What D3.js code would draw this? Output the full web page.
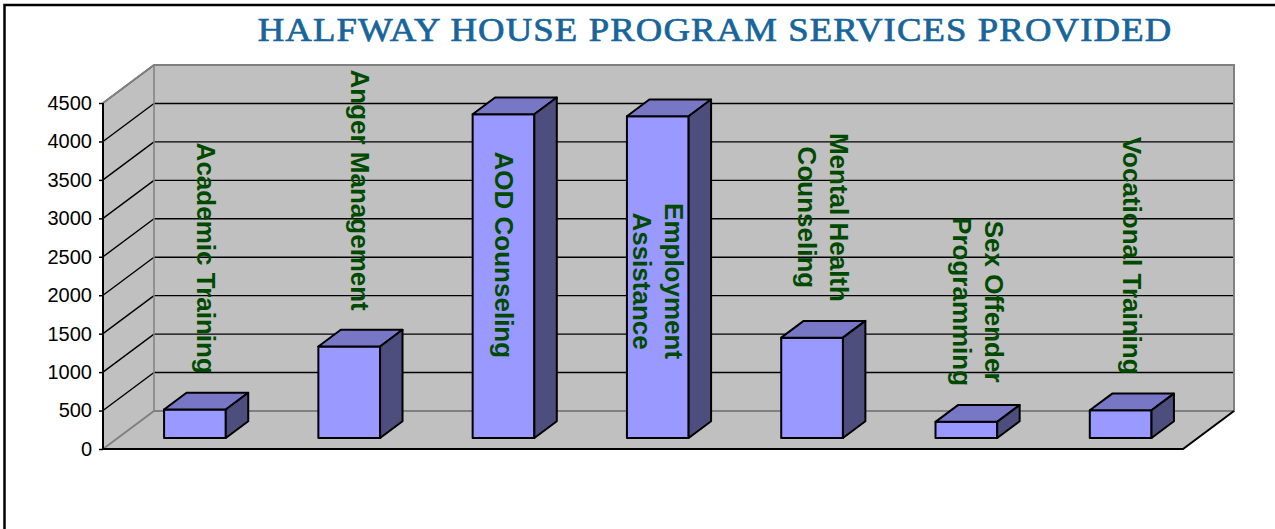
<!DOCTYPE html>
<html>
  <head>
    <title>Halfway House Program Services Provided</title>
    <script src="https://d3js.org/d3.v7.min.js"></script>
    <style>
      body { margin: 0; background: #fff; }
    </style>
  </head>
  <body>
    <div id="chart"></div>
    <script>
      // data
      var categories = ["Academic Training", "Anger Management", "AOD Counseling", "Employment Assistance",
        "Mental Health Counseling", "Sex Offender Programming", "Vocational Training"];
      var labelLines = [["Academic Training"], ["Anger Management"], ["AOD Counseling"], ["Employment", "Assistance"],
        ["Mental Health", "Counseling"], ["Sex Offender", "Programming"], ["Vocational Training"]];
      var values = [370, 1190, 4210, 4185, 1305, 210, 360];
      var yTicks = [0, 500, 1000, 1500, 2000, 2500, 3000, 3500, 4000, 4500];
      var title = "HALFWAY HOUSE PROGRAM SERVICES PROVIDED";

      var width = 1275, height = 529;
      var x0 = 103, x1 = 1183, yTopPx = 103, yBotPx = 449;
      var depthX = 51, depthY = -38;       // oblique offset of the back wall
      var d1 = 0.29, d2 = 0.73;            // bar front / back depth

      var svg = d3.select("#chart").append("svg")
        .attr("width", width)
        .attr("height", height);

      // outer frame
      svg.append("rect")
        .attr("x", 4.5).attr("y", 5)
        .attr("width", width + 10).attr("height", height + 10)
        .style("fill", "none").style("stroke", "#000").style("stroke-width", 2.5);

      var y = d3.scaleLinear().domain([0, 4500]).range([yBotPx, yTopPx]);
      var x = d3.scaleBand().domain(categories).range([x0, x1]).paddingInner(0).paddingOuter(0);

      function P(px, v, d) {
        return [px + d * depthX, y(v) + d * depthY];
      }
      function poly(pts) {
        return "M" + pts.map(function(p) { return p[0] + "," + p[1]; }).join("L") + "Z";
      }

      var g = svg.append("g");

      // back wall
      g.append("path")
        .attr("d", poly([P(x0, 0, 1), P(x0, 4500, 1), P(x1, 4500, 1), P(x1, 0, 1)]))
        .style("fill", "#c0c0c0").style("stroke", "none");
      // side wall
      g.append("path")
        .attr("d", poly([P(x0, 0, 0), P(x0, 4500, 0), P(x0, 4500, 1), P(x0, 0, 1)]))
        .style("fill", "#c0c0c0").style("stroke", "none");
      // floor
      g.append("path")
        .attr("d", poly([P(x0, 0, 0), P(x1, 0, 0), P(x1, 0, 1), P(x0, 0, 1)]))
        .style("fill", "#c0c0c0").style("stroke", "none");

      // gridlines
      var gridVals = yTicks.filter(function(v) { return v > 0 && v < 4500; });
      g.selectAll(".gridBack")
        .data(gridVals)
        .enter()
        .append("line")
        .attr("x1", function(v) { return P(x0, v, 1)[0]; })
        .attr("y1", function(v) { return P(x0, v, 1)[1]; })
        .attr("x2", function(v) { return P(x1, v, 1)[0]; })
        .attr("y2", function(v) { return P(x1, v, 1)[1]; })
        .style("stroke", "#000").style("stroke-width", 1.4);
      g.selectAll(".gridSide")
        .data(yTicks.filter(function(v) { return v > 0; }))
        .enter()
        .append("line")
        .attr("x1", function(v) { return P(x0, v, 0)[0]; })
        .attr("y1", function(v) { return P(x0, v, 0)[1]; })
        .attr("x2", function(v) { return P(x0, v, 1)[0]; })
        .attr("y2", function(v) { return P(x0, v, 1)[1]; })
        .style("stroke", "#000").style("stroke-width", 1.4);

      // wall borders (grey)
      g.append("path")
        .attr("d", "M" + P(x0, 0, 0) + "L" + P(x0, 0, 1) + "L" + P(x1, 0, 1) + "L" + P(x1, 4500, 1) +
          "L" + P(x0, 4500, 1) + "L" + P(x0, 4500, 0))
        .style("fill", "none").style("stroke", "#808080").style("stroke-width", 2);
      g.append("line")
        .attr("x1", P(x0, 0, 1)[0]).attr("y1", P(x0, 0, 1)[1])
        .attr("x2", P(x0, 4500, 1)[0]).attr("y2", P(x0, 4500, 1)[1])
        .style("stroke", "#808080").style("stroke-width", 1.5);

      // floor front and right edges
      g.append("path")
        .attr("d", "M" + P(x0, 0, 0) + "L" + P(x1, 0, 0) + "L" + P(x1, 0, 1))
        .style("fill", "none").style("stroke", "#000").style("stroke-width", 2);

      // y axis
      var axisG = svg.append("g")
        .attr("transform", "translate(" + x0 + ",0)")
        .call(d3.axisLeft(y).tickValues(yTicks).tickSize(4).tickPadding(7).tickFormat(d3.format("d")));
      axisG.select(".domain").attr("d", "M0," + yBotPx + "V" + yTopPx)
        .style("stroke", "#000").style("stroke-width", 2);
      axisG.selectAll(".tick line").style("stroke", "#000").style("stroke-width", 1.5);
      axisG.selectAll(".tick text")
        .style("font-family", "'Liberation Sans', Arial, sans-serif")
        .style("font-size", "20px")
        .style("fill", "#000");

      // bars
      var bw = x.bandwidth() * 0.4;
      var bars = g.selectAll(".bar")
        .data(values)
        .enter()
        .append("g")
        .attr("class", "bar");

      function barX(i) { return x(categories[i]) + (x.bandwidth() - bw) / 2; }

      bars.append("path") // front
        .attr("d", function(v, i) {
          var l = barX(i), r = l + bw;
          return poly([P(l, 0, d1), P(l, v, d1), P(r, v, d1), P(r, 0, d1)]);
        })
        .style("fill", "#9999ff");
      bars.append("path") // top
        .attr("d", function(v, i) {
          var l = barX(i), r = l + bw;
          return poly([P(l, v, d1), P(l, v, d2), P(r, v, d2), P(r, v, d1)]);
        })
        .style("fill", "#7777c6");
      bars.append("path") // side
        .attr("d", function(v, i) {
          var r = barX(i) + bw;
          return poly([P(r, 0, d1), P(r, v, d1), P(r, v, d2), P(r, 0, d2)]);
        })
        .style("fill", "#4d4d7e");
      bars.selectAll("path")
        .style("stroke", "#000").style("stroke-width", 2).style("stroke-linejoin", "round");

      // category labels (rotated)
      var lineH = 32;
      var labels = svg.selectAll(".catLabel")
        .data(values)
        .enter()
        .append("g")
        .attr("class", "catLabel");

      labels.each(function(v, i) {
        var lg = d3.select(this);
        var lines = labelLines[i];
        var texts = lines.map(function(t, k) {
          return lg.append("text")
            .attr("x", 0)
            .attr("y", (k - (lines.length - 1) / 2) * lineH + 9)
            .attr("text-anchor", "middle")
            .style("font-family", "'Liberation Sans', Arial, sans-serif")
            .style("font-weight", "bold")
            .style("font-size", "26px")
            .style("fill", "#004a00")
            .text(t);
        });
        var maxLen = d3.max(texts, function(t) { return t.node().getComputedTextLength(); });
        var cx = barX(i) + bw / 2 + (d1 + d2) / 2 * depthX;
        var backTop = y(v) + d2 * depthY;
        var cy = backTop - 19 - maxLen / 2;
        if (cy - maxLen / 2 < 60) {
          // no room above: put it inside the front face
          cx = barX(i) + bw / 2 + d1 * depthX;
          cy = (y(v) + y(0)) / 2 + d1 * depthY + 82 - maxLen / 2;
        }
        lg.attr("transform", "translate(" + cx + "," + cy + ") rotate(90)");
      });

      // title (wide serif caps)
      var tg = svg.append("g");
      var tt = tg.append("text")
        .attr("x", 0)
        .attr("y", 0)
        .attr("text-anchor", "middle")
        .style("font-family", "'Liberation Serif', 'Times New Roman', serif")
        .style("font-size", "33px")
        .style("letter-spacing", "1px")
        .style("fill", "#17659a")
        .style("stroke", "#17659a")
        .style("stroke-width", 0.7)
        .text(title);
      var tl = tt.node().getComputedTextLength();
      tg.attr("transform", "translate(715,41) scale(" + (915 / tl) + ",1)");
    </script>
  </body>
</html>
